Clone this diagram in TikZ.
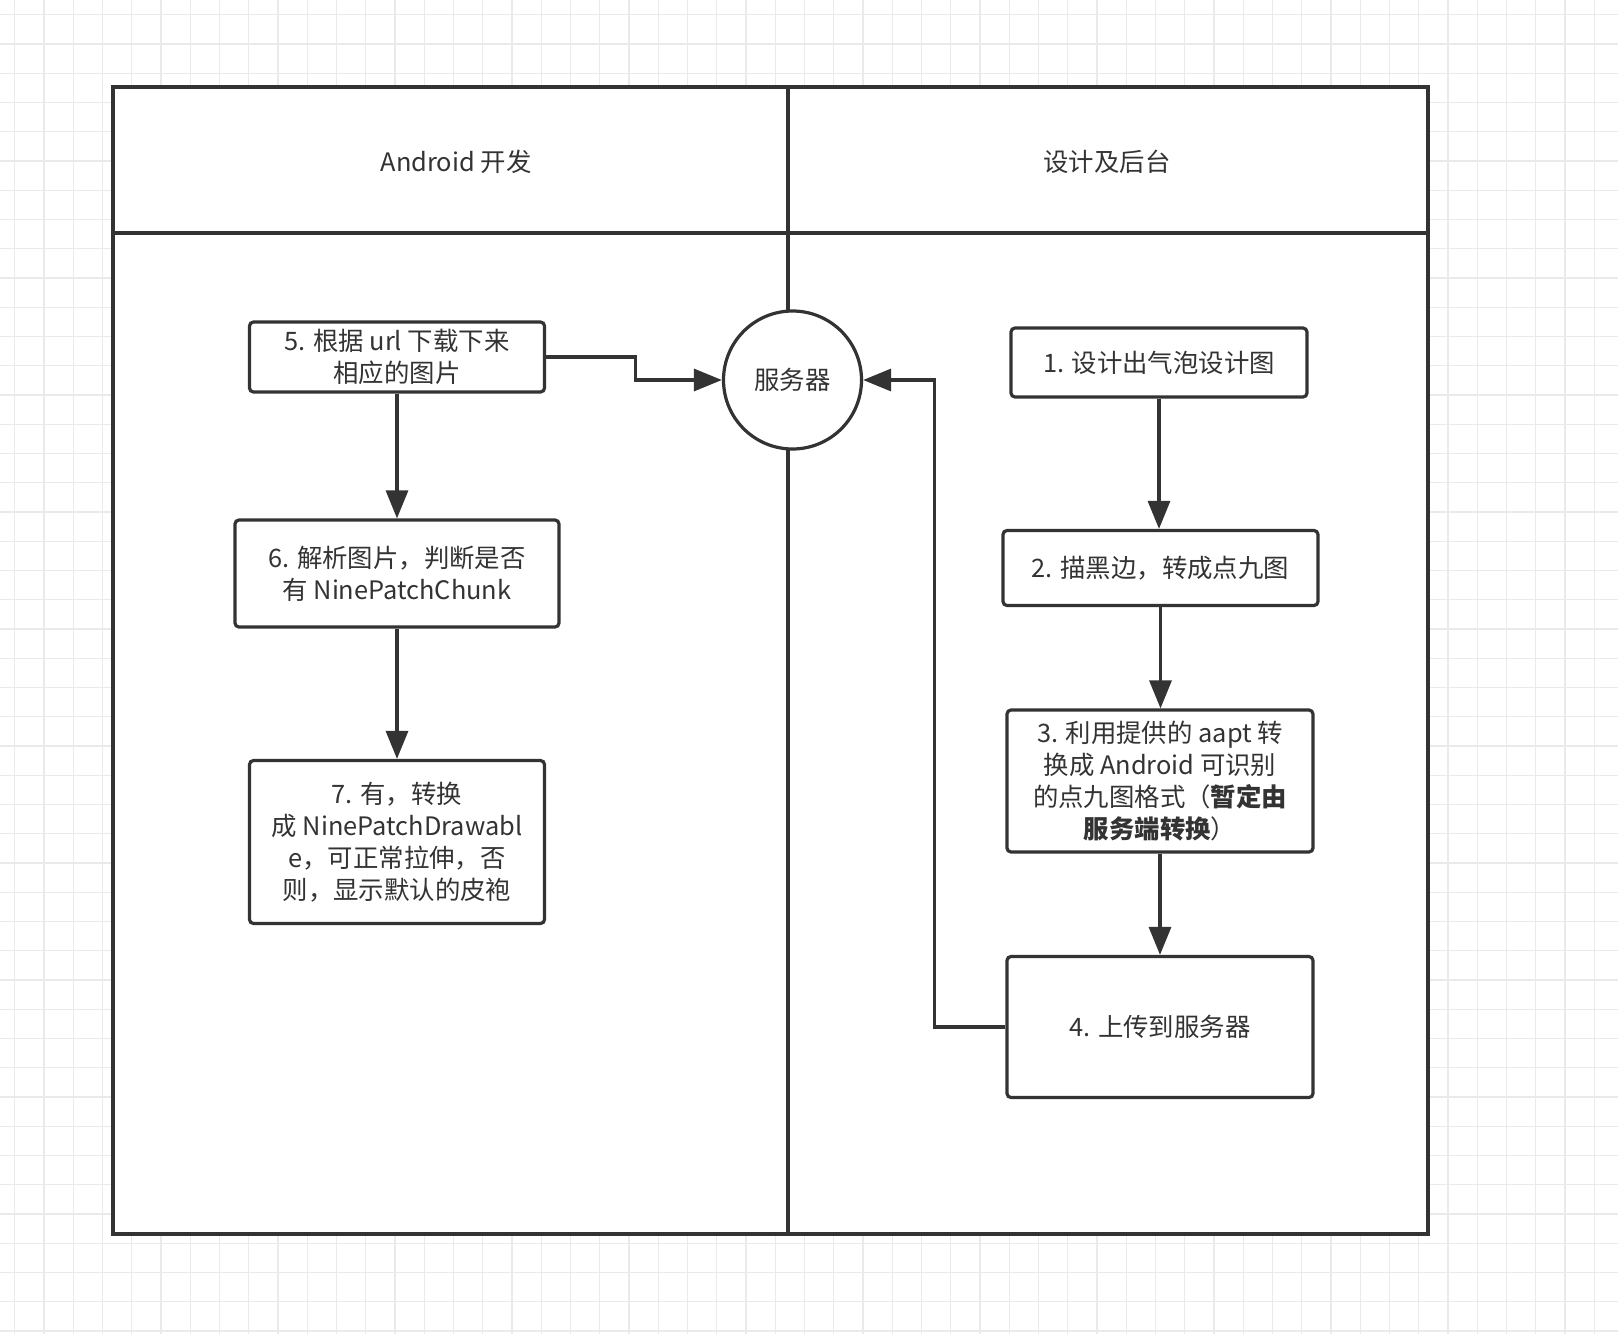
\documentclass[tikz,border=0pt]{standalone}
\usepackage{fontspec}
\setmainfont{Noto Sans CJK SC}
\usepackage{xcolor}
\usepackage{tikz}
\usetikzlibrary{arrows.meta,positioning,calc}
\definecolor{ink}{HTML}{333333}
\definecolor{gridgray}{HTML}{EAEAEA}

\begin{document}
\begin{tikzpicture}[x=0.5pt, y=-0.5pt,
    every node/.style = {text=ink, font=\fontsize{12.7}{16}\selectfont},
    proc/.style = {draw=ink, line width=1.6pt, rounded corners=2pt, fill=white,
                   align=center, inner sep=0pt},
    srv/.style = {draw=ink, line width=1.6pt, circle, fill=white,
                  minimum size=69pt, inner sep=0pt},
    lane/.style = {draw=ink, line width=1.6pt},
    arr/.style = {draw=ink, line width=1.6pt, -{Triangle[length=14pt,width=11pt]}},
    gridline/.style = {draw=gridgray, line width=0.6pt}
  ]
  \useasboundingbox (0,0) rectangle (1618,1334);
  \fill[white] (0,0) rectangle (1618,1334);
  % background grid
  \foreach \g in {0,...,55} {
    \draw[gridline] ({14.7+29.25*\g},0) -- ++(0,1334);
  }
  \foreach \g in {0,...,45} {
    \draw[gridline] (0,{14.7+29.25*\g}) -- ++(1618,0);
  }
  % swimlanes
  \draw[lane, fill=white] (113,87) rectangle (1428,1234);
  \draw[lane] (113,233) -- (1428,233);
  \draw[lane] (788,87) -- (788,1234);
  \node (devhead) at (456,162) {Android 开发};
  \node (bkhead) at (1107,162) {设计及后台};

  \node[srv] (srv) at (792.5,380) {服务器};

  % Android side
  \node[proc, minimum width=147.5pt, minimum height=35pt] (fetch) at (397,357)
    {5. 根据 url 下载下来\\相应的图片};
  \node[proc, minimum width=162pt, minimum height=53.5pt] (parse) at (397,573.5)
    {6. 解析图片，判断是否\\有 NinePatchChunk};
  \node[proc, minimum width=147.5pt, minimum height=81.5pt] (convert) at (397,842)
    {7. 有，转换\\成 NinePatchDrawabl\\e，可正常拉伸，否\\则，显示默认的皮袍};

  % design / backend side
  \node[proc, minimum width=148pt, minimum height=34.5pt] (design) at (1159,362.5)
    {1. 设计出气泡设计图};
  \node[proc, minimum width=157.5pt, minimum height=37.5pt] (ninepatch) at (1160.5,568)
    {2. 描黑边，转成点九图};
  \node[proc, minimum width=153pt, minimum height=71pt] (aapt) at (1160,781)
    {3. 利用提供的 aapt 转\\换成 Android 可识别\\的点九图格式（\textbf{暂定由}\\\textbf{服务端转换}）};
  \node[proc, minimum width=153pt, minimum height=70.5pt] (upload) at (1160,1027)
    {4. 上传到服务器};

  \draw[arr] (design.south) -- (design.south |- ninepatch.north);
  \draw[arr] (ninepatch.south) -- (ninepatch.south |- aapt.north);
  \draw[arr] (aapt.south) -- (aapt.south |- upload.north);
  \draw[arr] (upload.west) -- ++(-71,0) |- (srv.east);

  \draw[arr] (fetch.east) -- ++(89,0) |- (srv.west);
  \draw[arr] (fetch.south) -- (parse.north);
  \draw[arr] (parse.south) -- (convert.north);
\end{tikzpicture}
\end{document}
